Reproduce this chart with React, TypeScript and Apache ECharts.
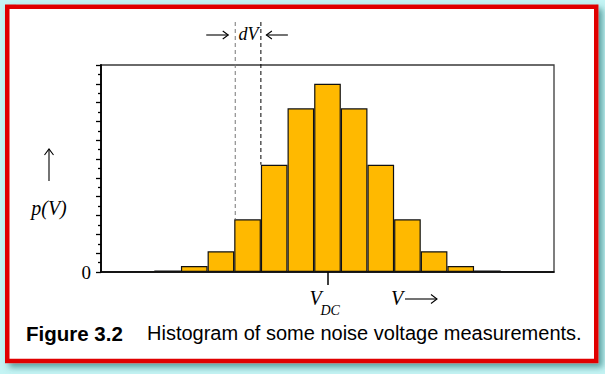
import { useEffect, useRef } from 'react';
import * as echarts from 'echarts';

// Histogram bins (offset from V_DC in units of dV) and bar heights (axis units)
const bins = ['-8', '-7', '-6', '-5', '-4', '-3', '-2', '-1', '0', '1', '2', '3', '4', '5', '6', '7', '8'];
const counts = [0, 0.05, 0.16, 0.64, 2.2, 5.6, 11.4, 17.4, 20, 17.4, 11.4, 5.6, 2.2, 0.64, 0.16, 0.05, 0];
const yTickLabels = ['0'];
const markedBin = 8; // bin at V_DC
const dVBins = [5, 6]; // bins bounded by the dV markers

const serif = '"Liberation Serif", "DejaVu Serif", serif';
const sans = '"Liberation Sans", Arial, sans-serif';

function arrow(x1: number, y1: number, x2: number, y2: number, head: number, spread: number) {
  const dx = x2 - x1;
  const dy = y2 - y1;
  const len = Math.sqrt(dx * dx + dy * dy);
  const ux = dx / len;
  const uy = dy / len;
  const px = -uy;
  const py = ux;
  const bx = x2 - ux * head;
  const by = y2 - uy * head;
  return {
    type: 'group',
    z: 10,
    children: [
      { type: 'line', shape: { x1, y1, x2, y2 }, style: { stroke: '#000', lineWidth: 1.1 } },
      {
        type: 'polyline',
        shape: { points: [[bx + px * spread, by + py * spread], [x2, y2], [bx - px * spread, by - py * spread]] },
        style: { stroke: '#000', lineWidth: 1.1, fill: 'none' },
      },
    ],
  };
}

export default function App() {
  const ref = useRef<HTMLDivElement>(null);
  useEffect(() => {
    const chart = echarts.init(ref.current!, null, { renderer: 'svg', width: 605, height: 374 });
    chart.setOption({
      animation: false,
      backgroundColor: '#c4f4f4',
      grid: {
        left: 101, top: 65, right: 51, bottom: 102,
        show: true, borderColor: '#3a3a3a', borderWidth: 1.3, backgroundColor: 'transparent',
      },
      xAxis: {
        type: 'category',
        data: bins,
        boundaryGap: true,
        axisLine: { lineStyle: { color: '#000', width: 1.5 } },
        axisTick: {
          show: true, alignWithLabel: true, length: 13,
          interval: (i: number) => i === markedBin,
          lineStyle: { color: '#000', width: 1.5 },
        },
        axisLabel: { show: false },
        splitLine: { show: false },
      },
      yAxis: {
        type: 'value', min: 0, max: 22, interval: 2,
        axisLine: { show: true, lineStyle: { color: '#000', width: 1.8 } },
        axisTick: { show: true, length: 5, lineStyle: { color: '#000', width: 1.3 } },
        minorTick: { show: true, splitNumber: 2, length: 3, lineStyle: { color: '#000', width: 1.3 } },
        splitLine: { show: false },
        axisLabel: {
          formatter: (v: number) => (yTickLabels.includes(String(v)) ? String(v) : ''),
          fontFamily: serif, fontSize: 19, color: '#000', margin: 10,
        },
      },
      series: [{
        type: 'bar',
        data: counts,
        barCategoryGap: 0,
        itemStyle: { color: '#FFB900', borderColor: '#111', borderWidth: 1.2 },
      }],
    });

    const cx = (i: number) => chart.convertToPixel({ xAxisIndex: 0 }, i) as number;
    const cy = (v: number) => chart.convertToPixel({ yAxisIndex: 0 }, v) as number;
    const half = (cx(1) - cx(0)) / 2;
    const l1 = cx(dVBins[0]) - half + 1;
    const l2 = cx(dVBins[1]) - half;
    const vdcX = cx(markedBin);
    const base = cy(0);

    chart.setOption({
      graphic: [
        {
          type: 'rect', z: -10,
          shape: { x: 7.25, y: 6.75, width: 589, height: 354.25 },
          style: {
            fill: '#fff', stroke: '#e00000', lineWidth: 4.5,
            shadowBlur: 6, shadowOffsetX: 4, shadowOffsetY: 4, shadowColor: 'rgba(0,90,90,0.55)',
          },
        },
        {
          type: 'line', z: 10,
          shape: { x1: l1, y1: 22, x2: l1, y2: cy(counts[dVBins[0]]) },
          style: { stroke: '#777', lineWidth: 1, lineDash: [4, 3] },
        },
        {
          type: 'line', z: 10,
          shape: { x1: l2, y1: 22, x2: l2, y2: cy(counts[dVBins[1]]) },
          style: { stroke: '#000', lineWidth: 1, lineDash: [4, 3] },
        },
        arrow(l1 - 29, 35, l1 - 7, 35, 5.5, 4),
        arrow(l2 + 27, 35, l2 + 5.5, 35, 5.5, 4),
        {
          type: 'text', z: 10,
          style: { text: 'dV', x: (l1 + l2) / 2 + 0.5, y: 33.5, align: 'center', verticalAlign: 'middle', font: `italic 18px ${serif}`, fill: '#000' },
        },
        arrow(49, 181, 49, 149, 6, 4.5),
        {
          type: 'text', z: 10,
          style: { text: 'p(V)', x: 49, y: 208, align: 'center', verticalAlign: 'middle', font: `italic 20px ${serif}`, fill: '#000' },
        },
        {
          type: 'text', z: 10,
          style: { text: 'V', x: vdcX - 18, y: base + 26, align: 'left', verticalAlign: 'middle', font: `italic 20px ${serif}`, fill: '#000' },
        },
        {
          type: 'text', z: 10,
          style: { text: 'DC', x: vdcX - 7, y: base + 38.5, align: 'left', verticalAlign: 'middle', font: `italic 14px ${serif}`, fill: '#000' },
        },
        {
          type: 'text', z: 10,
          style: { text: 'V', x: 391, y: base + 26, align: 'left', verticalAlign: 'middle', font: `italic 20px ${serif}`, fill: '#000' },
        },
        arrow(405, base + 27, 437, base + 27, 6, 4.5),
        {
          type: 'text', z: 10,
          style: { text: 'Figure 3.2', x: 26, y: 333, align: 'left', verticalAlign: 'middle', font: `bold 20.5px ${sans}`, fill: '#000' },
        },
        {
          type: 'text', z: 10,
          style: { text: 'Histogram of some noise voltage measurements.', x: 147, y: 333, align: 'left', verticalAlign: 'middle', font: `20px ${sans}`, fill: '#000' },
        },
      ],
    });

    return () => chart.dispose();
  }, []);
  return <div ref={ref} style={{ position: 'absolute', left: 0, top: 0, width: 605, height: 374 }} />;
}
